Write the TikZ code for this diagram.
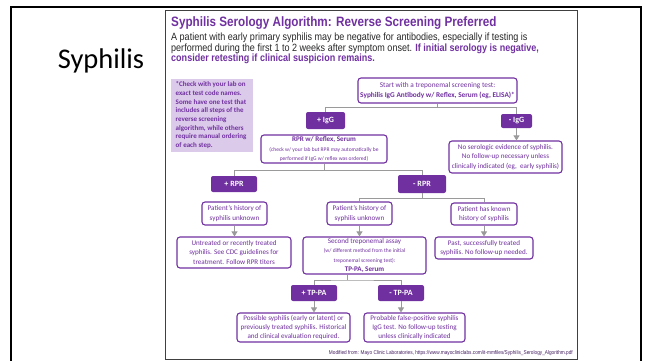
\documentclass[tikz,border=0pt]{standalone}
\usepackage{fontspec}
\setmainfont{Carlito}
\newfontfamily\arialn[FakeStretch=0.86]{Liberation Sans}
\usetikzlibrary{arrows.meta}
\usetikzlibrary{positioning}
\definecolor{svpurple}{HTML}{7030A0}
\definecolor{svlilac}{HTML}{DCCAEA}
\definecolor{svgrey}{HTML}{9A9A9A}
\tikzset{
  stepbox/.style={draw=svpurple, line width=1.1pt, rounded corners=3pt, fill=white, text=svpurple,
    align=center, inner sep=0pt, font=\fontsize{7.1}{9.4}\selectfont},
  resbox/.style={fill=svpurple, rounded corners=2pt, text=white, inner sep=0pt,
    font=\bfseries\fontsize{8}{9}\selectfont},
  link/.style={draw=svgrey, line width=0.9pt},
  arr/.style={link, -{Triangle[width=6pt,length=5pt]}},
}
\newcommand{\smallnote}{\fontsize{5.5}{6.6}\selectfont}
\newcommand{\stepsize}{\fontsize{7.1}{9.4}\selectfont}
\newcommand{\introsize}{\arialn\fontsize{10.5}{10.5}\selectfont}

\begin{document}
\begin{tikzpicture}[x=1pt, y=-1pt]
	 \clip (0,0) rectangle (646,360);
	 \useasboundingbox (0,0) rectangle (646,360);
	 % slide frame and picture frame
	 \draw[line width=2pt] (11,370) |- (641,7) -- (641,370);
	 \draw[black!75, line width=0.7pt] (165,10.5) rectangle (577,359);
	 \node[font=\fontsize{28.5}{30}\selectfont] (slide) at (101,61) {Syphilis};
	 % heading
	 \node[anchor=west, inner sep=0pt, text=svpurple, font=\arialn\bfseries\fontsize{13.6}{16}\selectfont] (title) at (171,23)
	   {Syphilis Serology Algorithm: Reverse Screening Preferred};
	 \node[anchor=north west, inner sep=0pt, align=left, text=black!85, font=\introsize] (intro) at (171,33)
	   {A patient with early primary syphilis may be negative for antibodies, especially if testing is\\
	    performed during the first 1 to 2 weeks after symptom onset. \color{svpurple}\bfseries If initial serology is negative,\\
	    \introsize\color{svpurple}\bfseries consider retesting if clinical suspicion remains.};
	 \node[anchor=north west, fill=svlilac, minimum width=82pt, minimum height=73pt, inner sep=0pt] (notebg) at (171,79) {};
	 \node[anchor=north west, align=left, text=svpurple, inner sep=0pt, font=\bfseries\fontsize{7}{8.7}\selectfont] (note) at (175.5,81.5)
	   {*Check with your lab on\\ exact test code names.\\ Some have one test that\\ includes all steps of the\\ reverse screening\\ algorithm, while others\\ require manual ordering\\ of each step.};
	 % steps
	 \node[stepbox, minimum width=159pt, minimum height=25pt, font=\fontsize{7.3}{9.2}\selectfont] (start) at (437.5,90.5)
	   {Start with a treponemal screening test:\\ \textbf{Syphilis IgG Antibody w/ Reflex, Serum (eg, ELISA)*}};
	 \node[resbox, minimum width=39pt, minimum height=17pt] (pigg) at (325.5,120.5) {+ IgG};
	 \node[resbox, minimum width=31pt, minimum height=14pt] (nigg) at (516.5,121) {- IgG};
	 \node[stepbox, minimum width=113pt, minimum height=32pt] (noev) at (505.5,157)
	   {No serologic evidence of syphilis.\\ No follow-up necessary unless\\ clinically indicated (eg,~ early syphilis)};
	 \node[stepbox, minimum width=126pt, minimum height=28pt] (rpr) at (324,149)
	   {\textbf{RPR w/ Reflex, Serum}\\ \smallnote (check w/ your lab but RPR may automatically be\\ \smallnote performed if IgG w/ reflex was ordered)};
	 \node[resbox, minimum width=46pt, minimum height=16pt] (prpr) at (234,184) {+ RPR};
	 \node[resbox, minimum width=48pt, minimum height=18pt] (nrpr) at (422,184) {- RPR};
	 \node[stepbox, minimum width=65pt, minimum height=23pt] (hista) at (234.5,213.5) {Patient’s history of\\ syphilis unknown};
	 \node[stepbox, minimum width=114pt, minimum height=31pt] (untr) at (234,252.5)
	   {Untreated or recently treated\\ syphilis. See CDC guidelines for\\ treatment. Follow RPR titers};
	 \node[stepbox, minimum width=65pt, minimum height=23pt] (histb) at (359.5,213.5) {Patient’s history of\\ syphilis unknown};
	 \node[stepbox, minimum width=66pt, minimum height=22pt] (known) at (484,214) {Patient has known\\ history of syphilis};
	 \node[stepbox, minimum width=98pt, minimum height=22pt] (past) at (484,248)
	   {Past, successfully treated\\ syphilis. No follow-up needed.};
	 \node[stepbox, minimum width=123pt, minimum height=37pt] (second) at (364.5,255.5)
	   {Second treponemal assay\\ \smallnote (w/ different method from the initial\\ \smallnote treponemal screening test):\\ \stepsize\bfseries TP-PA, Serum};
	 \node[resbox, minimum width=46pt, minimum height=16pt] (ptp) at (314,293) {+ TP-PA};
	 \node[resbox, minimum width=46pt, minimum height=16pt] (ntp) at (401,293) {- TP-PA};
	 \node[stepbox, minimum width=113pt, minimum height=29pt, font=\fontsize{7.1}{8.8}\selectfont] (poss) at (293.5,327.5)
	   {Possible syphilis (early or latent) or\\ previously treated syphilis. Historical\\ and clinical evaluation required.};
	 \node[stepbox, minimum width=101pt, minimum height=29pt, font=\fontsize{7.1}{8.8}\selectfont] (prob) at (414.5,327.5)
	   {Probable false-positive syphilis\\ IgG test. No follow-up testing\\ unless clinically indicated};
	 \node[anchor=east, inner sep=0pt, text=svpurple!60!black, font=\arialn\fontsize{5.5}{6}\selectfont] (src) at (573,353)
	   {Modified from: Mayo Clinic Laboratories, https://www.mayocliniclabs.com/it-mmfiles/Syphilis\_Serology\_Algorithm.pdf};
	 % connectors
	 \coordinate (splitA) at ([yshift=-4pt]start.south);
	 \draw[link] (start.south) -- (splitA);
	 \draw[link] (pigg.north) |- (splitA) -| (nigg.north);
	 \draw[arr] (nigg.south) -- (nigg.south |- noev.north);
	 \coordinate (splitB) at ([yshift=-7pt]rpr.south);
	 \draw[link] (rpr.south) -- (splitB);
	 \draw[link] (prpr.north) |- (splitB) -| (nrpr.north);
	 \draw[arr] (hista.south) -- (hista.south |- untr.north);
	 \coordinate (splitC) at ([yshift=-5pt]nrpr.south);
	 \draw[link] (nrpr.south) -- (splitC);
	 \draw[link] (histb.north) |- (splitC) -| (known.north);
	 \draw[arr] (histb.south) -- (histb.south |- second.north);
	 \draw[arr] (known.south) -- (known.south |- past.north);
	 \coordinate (splitD) at (347,280);
	 \draw[link] (splitD |- second.south) -- (splitD);
	 \draw[link] (ptp.north) |- (splitD) -| (ntp.north);
	 \draw[arr] (ptp.south) -- (ptp.south |- poss.north);
	 \draw[arr] (ntp.south) -- (ntp.south |- prob.north);
 \end{tikzpicture}
\end{document}
